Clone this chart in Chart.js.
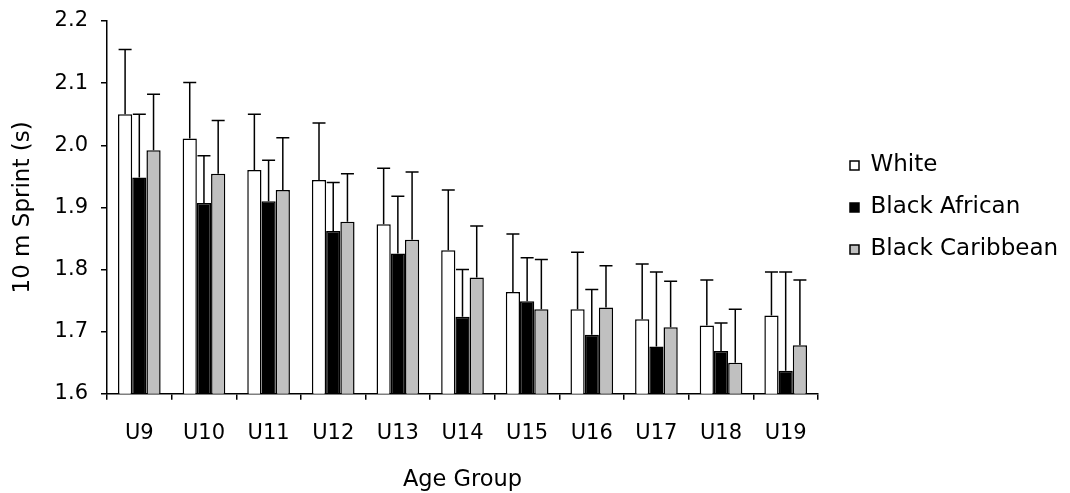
<!DOCTYPE html>
<html>
<head>
<meta charset="utf-8">
<title>10 m Sprint by Age Group</title>
<script src="https://cdn.jsdelivr.net/npm/chart.js@4.4.0/dist/chart.umd.min.js"></script>
<style>
    html, body { margin: 0; padding: 0; background: #fff; }
    #wrap { width: 1070px; height: 493px; position: relative; }
</style>
</head>
<body>
<div id="wrap"><canvas id="sprintChart"></canvas></div>
<script>
// Data
const ageGroups = ['U9', 'U10', 'U11', 'U12', 'U13', 'U14', 'U15', 'U16', 'U17', 'U18', 'U19'];

const whiteMean = [2.050, 2.011, 1.960, 1.944, 1.873, 1.831, 1.764, 1.736, 1.720, 1.710, 1.726];
const whiteSD = [0.104, 0.090, 0.090, 0.092, 0.090, 0.097, 0.093, 0.092, 0.089, 0.073, 0.070];

const africanMean = [1.948, 1.907, 1.910, 1.862, 1.826, 1.724, 1.749, 1.695, 1.676, 1.669, 1.637];
const africanSD = [0.102, 0.076, 0.066, 0.078, 0.092, 0.076, 0.070, 0.073, 0.120, 0.045, 0.159];

const caribbeanMean = [1.992, 1.954, 1.928, 1.877, 1.848, 1.787, 1.736, 1.739, 1.707, 1.650, 1.678];
const caribbeanSD = [0.090, 0.086, 0.084, 0.077, 0.109, 0.083, 0.080, 0.067, 0.074, 0.086, 0.105];

const yTicks = [1.6, 1.7, 1.8, 1.9, 2.0, 2.1, 2.2];

Chart.defaults.font.family = "'DejaVu Sans', sans-serif";
Chart.defaults.color = '#000';

// Draws the upper SD whiskers on top of each bar
const errorBars = {
    id: 'errorBars',
    afterDatasetsDraw(chart) {
        const ctx = chart.ctx;
        const y = chart.scales.y;
        ctx.save();
        ctx.strokeStyle = '#000';
        ctx.lineWidth = 1.5;
        chart.data.datasets.forEach((ds, i) => {
            const meta = chart.getDatasetMeta(i);
            meta.data.forEach((bar, j) => {
                const top = y.getPixelForValue(ds.data[j] + ds.sd[j]);
                ctx.beginPath();
                ctx.moveTo(bar.x, bar.y);
                ctx.lineTo(bar.x, top);
                ctx.moveTo(bar.x - 6.5, top);
                ctx.lineTo(bar.x + 6.5, top);
                ctx.stroke();
            });
        });
        ctx.restore();
    }
};

// Nudge the legend right, away from the plot edge
const legendShift = {
    id: 'legendShift',
    afterLayout(chart) {
        chart.legend.left += 13;
        chart.legend.right += 13;
    }
};

function makeDataset(label, mean, sd, fill) {
    return {
        label: label,
        data: mean,
        sd: sd,
        backgroundColor: fill,
        borderColor: '#000',
        borderWidth: 1.5,
        categoryPercentage: 0.66,
        barPercentage: 1.0,
    };
}

function renderChart() {
    const ctx = document.getElementById('sprintChart').getContext('2d');
    new Chart(ctx, {
        type: 'bar',
        data: {
            labels: ageGroups,
            datasets: [
                makeDataset('White', whiteMean, whiteSD, '#ffffff'),
                makeDataset('Black African', africanMean, africanSD, '#000000'),
                makeDataset('Black Caribbean', caribbeanMean, caribbeanSD, '#c0c0c0'),
            ],
        },
        options: {
            responsive: true,
            maintainAspectRatio: false,
            animation: false,
            layout: {
                padding: { left: 5, right: 16, top: 21, bottom: 0 },
            },
            plugins: {
                tooltip: { enabled: false },
                legend: {
                    position: 'right',
                    fullSize: false,
                    maxWidth: 236,
                    labels: {
                        boxWidth: 9,
                        boxHeight: 9,
                        padding: 19,
                        font: { size: 23 },
                        color: '#000',
                    },
                },
            },
            scales: {
                x: {
                    grid: {
                        display: true,
                        drawOnChartArea: false,
                        drawTicks: true,
                        tickLength: 6,
                        color: '#000',
                        lineWidth: 1.5,
                    },
                    border: { display: true, color: '#000', width: 1.5 },
                    ticks: {
                        font: { size: 21 },
                        padding: 21,
                        maxRotation: 0,
                    },
                    title: {
                        display: true,
                        text: 'Age Group',
                        font: { size: 22.5, lineHeight: 1 },
                        padding: { top: 1.5, bottom: 2 },
                    },
                },
                y: {
                    min: yTicks[0],
                    max: yTicks[yTicks.length - 1],
                    afterBuildTicks(scale) {
                        scale.ticks = yTicks.map(v => ({ value: v }));
                    },
                    grid: {
                        display: true,
                        drawOnChartArea: false,
                        drawTicks: true,
                        tickLength: 6,
                        color: '#000',
                        lineWidth: 1.5,
                    },
                    border: { display: true, color: '#000', width: 1.5 },
                    ticks: {
                        font: { size: 21, lineHeight: 0.6 },
                        padding: 13,
                        callback: v => v.toFixed(1),
                    },
                    title: {
                        display: true,
                        text: '10 m Sprint (s)',
                        font: { size: 23 },
                        padding: { top: 4, bottom: 5 },
                    },
                },
            },
        },
        plugins: [errorBars, legendShift],
    });
}

renderChart();
</script>
</body>
</html>
